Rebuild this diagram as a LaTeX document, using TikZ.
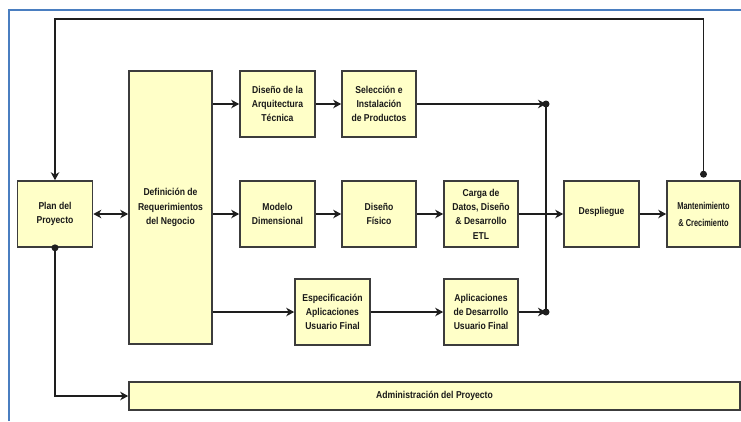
\documentclass[tikz,border=0pt]{standalone}
\usepackage{fontspec}
\setmainfont{Liberation Sans}[FakeStretch=0.86]
\usetikzlibrary{arrows.meta}
\definecolor{boxfill}{RGB}{255,255,200}
\definecolor{boxline}{RGB}{60,60,60}
\definecolor{lineclr}{RGB}{30,30,30}
\definecolor{frameblue}{RGB}{74,126,192}
\begin{document}
\begin{tikzpicture}[x=1pt,y=-1pt,
  box/.style={draw=boxline, line width=1.6pt, fill=boxfill, align=center,
    font=\bfseries\fontsize{10}{14.3}\selectfont, inner sep=0pt, text=black!90},
  conn/.style={draw=lineclr, line width=1.6pt},
  arr/.style={conn, -{Stealth[length=8pt,width=8.5pt,inset=2.5pt]}},
  arrbi/.style={conn, {Stealth[length=8pt,width=8.5pt,inset=2.5pt]}-{Stealth[length=8pt,width=8.5pt,inset=2.5pt]}},
  dotnode/.style={circle, fill=lineclr, inner sep=0pt, minimum size=7pt}]
\useasboundingbox (0,0) rectangle (741,421);
\fill[white] (0,0) rectangle (741,421);
% blue frame
\draw[frameblue, line width=2.5pt] (9,421) -- (9,10) -- (741,10);
% boxes
\node[box, minimum width=75pt, minimum height=66pt] (plan) at (55,214) {Plan del\\Proyecto};
\node[box, minimum width=83pt, minimum height=273pt] (req) at (170.5,207.5) {\raisebox{-4pt}{\parbox{80pt}{\centering Definición de\\Requerimientos\\del Negocio}}};
\node[box, minimum width=75pt, minimum height=66pt] (arq) at (277.5,104) {Diseño de la\\Arquitectura\\Técnica};
\node[box, minimum width=74pt, minimum height=66pt] (sel) at (379,104) {Selección e\\Instalación\\de Productos};
\node[box, minimum width=75pt, minimum height=66pt] (mod) at (277.5,214) {Modelo\\Dimensional};
\node[box, minimum width=74pt, minimum height=66pt] (fis) at (379,214) {Diseño\\Físico};
\node[box, minimum width=74pt, minimum height=66pt] (carga) at (481,214) {Carga de\\Datos, Diseño\\\&{} Desarrollo\\ETL};
\node[box, minimum width=75pt, minimum height=66pt] (desp) at (601.5,214) {\raisebox{6pt}{Despliegue}};
\node[box, minimum width=73pt, minimum height=66pt, font=\bfseries\fontsize{10}{17}\selectfont] (mant) at (703.5,214) {\raisebox{-4pt}{\parbox{70pt}{\centering\scalebox{0.86}[1]{Mantenimiento}\\\scalebox{0.86}[1]{\&{} Crecimiento}}}};
\node[box, minimum width=75pt, minimum height=66pt] (esp) at (332.5,312) {Especificación\\Aplicaciones\\Usuario Final};
\node[box, minimum width=74pt, minimum height=66pt] (apl) at (481,312) {Aplicaciones\\de Desarrollo\\Usuario Final};
\node[box, minimum width=611pt, minimum height=28pt] (adm) at (434.5,396) {Administración del Proyecto};
% connectors
\draw[arrbi] (plan.east) -- (plan.east -| req.west);
\draw[arr] (req.east |- arq.west) -- (arq.west);
\draw[arr] (arq.east) -- (sel.west);
\draw[arr] (req.east |- mod.west) -- (mod.west);
\draw[arr] (mod.east) -- (fis.west);
\draw[arr] (fis.east) -- (carga.west);
\draw[arr] (carga.east) -- (desp.west);
\draw[arr] (desp.east) -- (mant.west);
\draw[arr] (req.east |- esp.west) -- (esp.west);
\draw[arr] (esp.east) -- (apl.west);
% bus
\coordinate (bt) at (546,104);
\coordinate (bb) at (546,312);
\draw[conn] (bt) -- (bb);
\draw[arr] (sel.east) -- (bt);
\draw[arr] (apl.east) -- (bb);
\node[dotnode] (dt) at (bt) {};
\node[dotnode] (db) at (bb) {};
% feedback top
\node[dotnode] (dm) at ([yshift=6pt]mant.north) {};
\coordinate (tc) at (380,19);
\draw[arr] (dm.center) |- (tc) -| (plan.north);
% plan to administration
\node[dotnode] (dp) at (plan.south) {};
\draw[arr] (dp.center) |- (adm.west);
\end{tikzpicture}
\end{document}
